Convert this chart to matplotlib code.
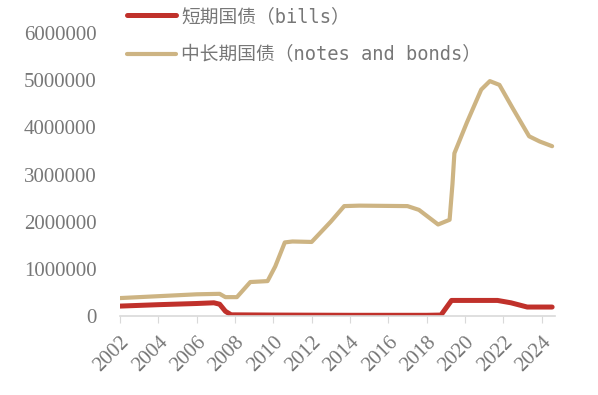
import matplotlib.pyplot as plt

# 短期国债 (bills)
bills_t = [2002.0, 2004.0, 2006.0, 2006.9, 2007.2, 2007.5, 2007.8, 2010.0, 2014.0, 2018.0, 2018.75,
           2019.3, 2021.7, 2022.4, 2023.25, 2024.55]
bills_v = [210000, 240000, 265000, 280000, 250000, 100000, 25000, 20000, 15000, 15000, 20000,
           330000, 330000, 280000, 190000, 190000]

# 中长期国债 (notes and bonds)
notes_t = [2002.0, 2004.0, 2006.0, 2007.2, 2007.5, 2008.1, 2008.8, 2009.7, 2010.1, 2010.6, 2011.0,
           2012.0, 2013.0, 2013.7, 2014.5, 2017.0, 2017.6, 2018.6, 2019.2, 2019.35, 2019.45,
           2020.1, 2020.85, 2021.3, 2021.8, 2022.5, 2023.35, 2023.9, 2024.55]
notes_v = [380000, 420000, 460000, 470000, 400000, 400000, 720000, 740000, 1050000, 1560000, 1580000,
           1570000, 2000000, 2330000, 2340000, 2330000, 2250000, 1940000, 2040000, 2800000, 3450000,
           4100000, 4800000, 4980000, 4900000, 4400000, 3810000, 3700000, 3600000]

years = list(range(2002, 2025, 2))
yticks = [0, 1000000, 2000000, 3000000, 4000000, 5000000, 6000000]

red = '#c0312b'
gold = '#cdb483'
gray = '#777777'

fig = plt.figure(figsize=(5.98, 3.95), dpi=100)
ax = fig.add_axes([120 / 598, 1 - 316 / 395, 435 / 598, 283 / 395])

ax.plot(bills_t, bills_v, color=red, lw=3.6, solid_capstyle='round', label='短期国债（bills）')
ax.plot(notes_t, notes_v, color=gold, lw=3.0, solid_capstyle='round', label='中长期国债（notes and bonds）')

ax.set_xlim(2002, 2024.7)
ax.set_ylim(0, 6000000)
ax.set_xticks(years)
ax.set_xticklabels([str(y) for y in years], rotation=45, ha='right', rotation_mode='anchor',
                   family='Liberation Serif', fontsize=15, color=gray)
ax.set_yticks(yticks)
ax.set_yticklabels([str(v) for v in yticks], family='Liberation Serif', fontsize=15, color=gray)
ax.tick_params(axis='y', length=0, pad=17)
ax.tick_params(axis='x', length=5, color='#d9d9d9', pad=7)

for s in ['top', 'right', 'left']:
    ax.spines[s].set_visible(False)
ax.spines['bottom'].set_color('#d9d9d9')
ax.spines['bottom'].set_linewidth(1.2)

leg = fig.legend(loc='upper left', bbox_to_anchor=(127 / 598, 1 - 7 / 395), frameon=False,
                 borderpad=0, borderaxespad=0,
                 handlelength=2.6, handletextpad=0.3, labelspacing=1.05,
                 prop={'family': ['DejaVu Sans Mono', 'Noto Sans CJK SC'], 'size': 13.5})
for t in leg.get_texts():
    t.set_color(gray)

fig.savefig('out.png', dpi=100)
